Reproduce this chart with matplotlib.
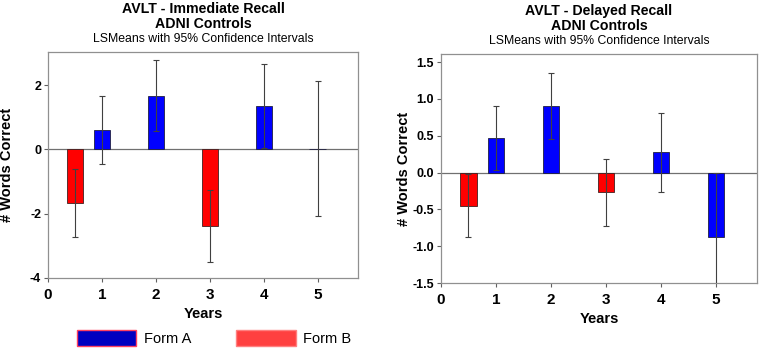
import matplotlib.pyplot as plt
from matplotlib.patches import Patch

plt.rcParams['font.family'] = ['Liberation Sans', 'DejaVu Sans']

# bar positions (years)
form_a_years = [1, 2, 4, 5]
form_b_years = [0.5, 3]
xticks = [0, 1, 2, 3, 4, 5]

# immediate recall: LSMeans and 95% CI half widths
imm_a = [0.61, 1.67, 1.35, 0.02]
imm_a_ci = [1.06, 1.10, 1.32, 2.10]
imm_b = [-1.67, -2.38]
imm_b_ci = [1.05, 1.12]

# delayed recall
del_a = [0.475, 0.905, 0.275, -0.875]
del_a_ci = [0.435, 0.445, 0.535, 0.865]
del_b = [-0.45, -0.265]
del_b_ci = [0.43, 0.455]

W, H = 759, 351
fig = plt.figure(figsize=(W / 100, H / 100), dpi=100)


def px_axes(x0, x1, top, bottom):
    return fig.add_axes([x0 / W, (H - bottom) / H, (x1 - x0) / W, (bottom - top) / H])


def draw_panel(ax, a, a_ci, b, b_ci, ylim, yticks, ylabels, title, ylab_x):
    ax.bar(form_a_years, a, width=0.3, color='#0000FF', edgecolor='#202040', linewidth=0.6, zorder=2)
    ax.bar(form_b_years, b, width=0.3, color='#FF0000', edgecolor='#402020', linewidth=0.6, zorder=2)
    ax.errorbar(form_a_years, a, yerr=a_ci, fmt='none', ecolor='#404040', elinewidth=0.8, capsize=2, capthick=0.8, zorder=3)
    ax.errorbar(form_b_years, b, yerr=b_ci, fmt='none', ecolor='#404040', elinewidth=0.8, capsize=2, capthick=0.8, zorder=3)
    ax.axhline(0, color='#707070', linewidth=0.9, zorder=1)
    ax.set_xlim(0, 5.75)
    ax.set_ylim(*ylim)
    ax.set_xticks(xticks)
    ax.set_xticklabels([str(t) for t in xticks], fontsize=11, fontweight='bold')
    ax.set_yticks(yticks)
    ax.set_yticklabels(ylabels, fontsize=9, fontweight='bold')
    ax.tick_params(length=3, width=0.8, color='#606060', pad=2)
    ax.tick_params(axis='x', pad=4)
    for s in ax.spines.values():
        s.set_color('#909090')
        s.set_linewidth(0.9)
    ax.set_ylabel('# Words Correct', fontsize=10.5, fontweight='bold')
    ax.yaxis.set_label_coords(ylab_x, 0.5)
    ax.set_xlabel('Years', fontsize=10.5, fontweight='bold', labelpad=4)
    ax.set_title(title, fontsize=10.2, fontweight='bold', pad=17, linespacing=1.15)
    ax.text(0.5, 1.03, 'LSMeans with 95% Confidence Intervals', transform=ax.transAxes,
            ha='center', va='bottom', fontsize=8.8)


ax1 = px_axes(48, 358, 52, 278)
draw_panel(ax1, imm_a, imm_a_ci, imm_b, imm_b_ci, (-4, 3.03), [-4, -2, 0, 2],
           ['-4', '-2', '0', '2'], 'AVLT - Immediate Recall\nADNI Controls', -0.11)

ax2 = px_axes(441, 757, 54, 283)
yt = [-1.5, -1.0, -0.5, 0.0, 0.5, 1.0, 1.5]
draw_panel(ax2, del_a, del_a_ci, del_b, del_b_ci, (-1.5, 1.61), yt,
           ['%.1f' % v for v in yt], 'AVLT - Delayed Recall\nADNI Controls', -0.095)

handles = [Patch(facecolor='#0000C0', edgecolor='#FF4060', label='Form A'),
           Patch(facecolor='#FF4040', edgecolor='#FF8080', label='Form B')]
fig.legend(handles=handles, ncol=2, frameon=False, fontsize=10.5,
           loc='center', bbox_to_anchor=(214 / W, (H - 338) / H),
           handlelength=4.1, handleheight=1.37, handletextpad=0.5, columnspacing=3.1)

fig.savefig('out.png', dpi=100)
